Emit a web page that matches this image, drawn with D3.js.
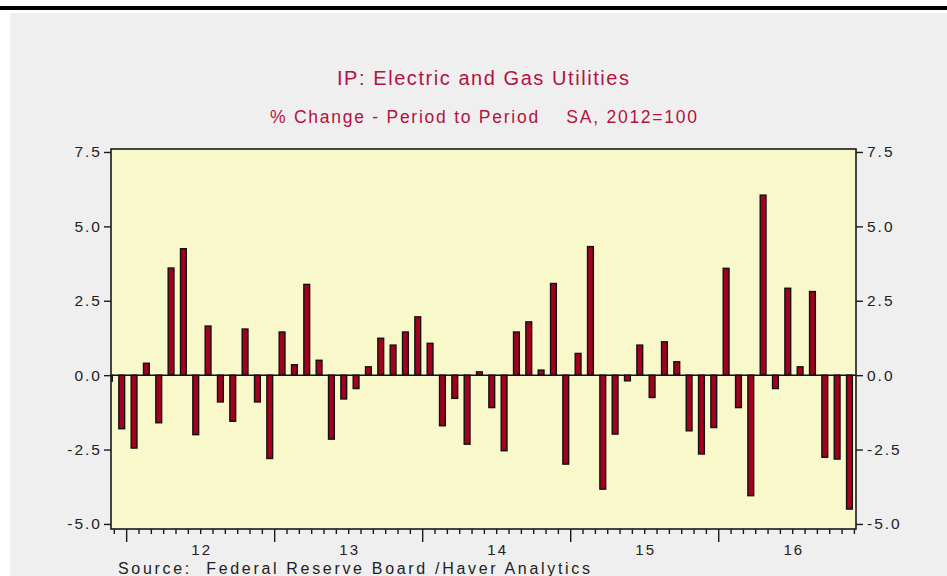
<!DOCTYPE html>
<html>
<head>
<meta charset="utf-8">
<script src="https://cdn.jsdelivr.net/npm/d3@7"></script>
<style>
  html, body { margin: 0; padding: 0; background: #ffffff; }
  svg { display: block; }
</style>
</head>
<body>
<script>
// ---------------- data ----------------
const titleText = "IP: Electric and Gas Utilities";
const subtitleText = "% Change - Period to Period    SA, 2012=100";
const sourceText = "Source:  Federal Reserve Board /Haver Analytics";

const months = [
  "2011-11","2011-12",
  "2012-01","2012-02","2012-03","2012-04","2012-05","2012-06","2012-07","2012-08","2012-09","2012-10","2012-11","2012-12",
  "2013-01","2013-02","2013-03","2013-04","2013-05","2013-06","2013-07","2013-08","2013-09","2013-10","2013-11","2013-12",
  "2014-01","2014-02","2014-03","2014-04","2014-05","2014-06","2014-07","2014-08","2014-09","2014-10","2014-11","2014-12",
  "2015-01","2015-02","2015-03","2015-04","2015-05","2015-06","2015-07","2015-08","2015-09","2015-10","2015-11","2015-12",
  "2016-01","2016-02","2016-03","2016-04","2016-05","2016-06","2016-07","2016-08","2016-09","2016-10","2016-11"
];
const pctChange = [
  -0.2, -1.8,
  -2.45, 0.4, -1.6, 3.6, 4.25, -2.0, 1.65, -0.9, -1.55, 1.55, -0.9, -2.8,
  1.45, 0.35, 3.05, 0.5, -2.15, -0.8, -0.45, 0.28, 1.24, 1.01, 1.45, 1.96,
  1.07, -1.7, -0.78, -2.32, 0.11, -1.09, -2.54, 1.45, 1.79, 0.17, 3.08, -2.99,
  0.73, 4.32, -3.83, -1.98, -0.19, 1.01, -0.75, 1.12, 0.45, -1.87, -2.65, -1.76,
  3.59, -1.09, -4.05, 6.05, -0.45, 2.92, 0.28, 2.81, -2.76, -2.82, -4.5
];
const yTicks = [-5.0, -2.5, 0.0, 2.5, 5.0, 7.5];
const yTickLabels = ["-5.0", "-2.5", "0.0", "2.5", "5.0", "7.5"];
const yearLabels = ["12", "13", "14", "15", "16"];
const yearStarts = [2012, 2013, 2014, 2015, 2016];

// ---------------- layout ----------------
const W = 947, H = 576;
const plot = { left: 111, right: 856, top: 149, bottom: 529 };

function monthIndex(s) {
  const [yy, mm] = s.split("-").map(Number);
  return (yy - 2012) * 12 + (mm - 1);
}

const x = d3.scaleLinear().domain([-1.27, 59.13]).range([plot.left, plot.right]);
const y = d3.scaleLinear().domain([-5.17, 7.6]).range([plot.bottom, plot.top]);

const svg = d3.select("body").append("svg").attr("width", W).attr("height", H);

// frame
svg.append("rect").attr("x", 0).attr("y", 0).attr("width", W).attr("height", H).attr("fill", "#ffffff");
svg.append("rect").attr("x", 10).attr("y", 13).attr("width", W - 10).attr("height", H - 13).attr("fill", "#efefef");
svg.append("rect").attr("x", 0).attr("y", 6).attr("width", W).attr("height", 4).attr("fill", "#000000");

const titleColor = "#b3123f";
const font = "Liberation Sans, Arial, sans-serif";
svg.append("text").attr("x", 483).attr("y", 85)
  .attr("text-anchor", "middle").attr("font-family", font)
  .attr("font-size", 20).attr("fill", titleColor)
  .attr("textLength", 292).attr("lengthAdjust", "spacing")
  .text(titleText);
svg.append("text").attr("x", 483.5).attr("y", 123)
  .attr("text-anchor", "middle").attr("font-family", font)
  .attr("font-size", 17.5).attr("fill", titleColor)
  .attr("textLength", 427).attr("lengthAdjust", "spacing")
  .style("white-space", "pre")
  .text(subtitleText);

// plot background
svg.append("rect")
  .attr("x", plot.left).attr("y", plot.top)
  .attr("width", plot.right - plot.left).attr("height", plot.bottom - plot.top)
  .attr("fill", "#f9f8ca");

svg.append("defs").append("clipPath").attr("id", "plotClip")
  .append("rect")
  .attr("x", plot.left).attr("y", plot.top)
  .attr("width", plot.right - plot.left).attr("height", plot.bottom - plot.top);

// bars
const barW = 5.8;
const data = months.map((m, i) => ({ u: monthIndex(m), v: pctChange[i] }));
svg.append("g").attr("clip-path", "url(#plotClip)")
  .selectAll("rect").data(data).enter().append("rect")
  .attr("x", d => x(d.u + 0.6) - barW / 2)
  .attr("y", d => Math.min(y(d.v), y(0)))
  .attr("width", barW)
  .attr("height", d => Math.abs(y(d.v) - y(0)))
  .attr("fill", "#a3001f")
  .attr("stroke", "#111")
  .attr("stroke-width", 1.4);

// zero line
svg.append("line")
  .attr("x1", plot.left).attr("x2", plot.right)
  .attr("y1", y(0)).attr("y2", y(0))
  .attr("stroke", "#111").attr("stroke-width", 1.5);

// plot border
svg.append("rect")
  .attr("x", plot.left).attr("y", plot.top)
  .attr("width", plot.right - plot.left).attr("height", plot.bottom - plot.top)
  .attr("fill", "none").attr("stroke", "#1a1a1a").attr("stroke-width", 1.6);

// y axes
const fmt = d => yTickLabels[yTicks.indexOf(d)];
const leftAxis = d3.axisLeft(y).tickValues(yTicks).tickFormat(fmt).tickSize(7).tickPadding(4);
const rightAxis = d3.axisRight(y).tickValues(yTicks).tickFormat(fmt).tickSize(7).tickPadding(4);

const gl = svg.append("g").attr("transform", `translate(${plot.left},0)`).call(leftAxis);
const gr = svg.append("g").attr("transform", `translate(${plot.right},0)`).call(rightAxis);
[gl, gr].forEach(g => {
  g.select(".domain").remove();
  g.selectAll(".tick line").attr("stroke", "#1a1a1a").attr("stroke-width", 1.4);
  g.selectAll(".tick text")
    .attr("font-family", font).attr("font-size", 15.5)
    .attr("fill", "#222").style("letter-spacing", "2px");
});
gl.selectAll(".tick text").attr("dx", 2);

// x ticks (monthly, yearly long)
const monthTicks = d3.range(-1, 60);
svg.append("g").selectAll("line").data(monthTicks).enter().append("line")
  .attr("x1", d => x(d)).attr("x2", d => x(d))
  .attr("y1", plot.bottom)
  .attr("y2", d => plot.bottom + (d % 12 === 0 ? 13 : 5))
  .attr("stroke", "#1a1a1a").attr("stroke-width", 1.4);

svg.append("g").selectAll("text").data(yearLabels).enter().append("text")
  .attr("x", (d, i) => x(monthIndex(yearStarts[i] + "-07")) + 1)
  .attr("y", 555)
  .attr("text-anchor", "middle")
  .attr("font-family", font).attr("font-size", 15)
  .attr("fill", "#222").style("letter-spacing", "2px")
  .text(d => d);

// source
svg.append("text").attr("x", 118).attr("y", 574)
  .attr("font-family", font).attr("font-size", 16)
  .attr("fill", "#222")
  .attr("textLength", 472).attr("lengthAdjust", "spacing")
  .style("white-space", "pre")
  .text(sourceText);
</script>
</body>
</html>
